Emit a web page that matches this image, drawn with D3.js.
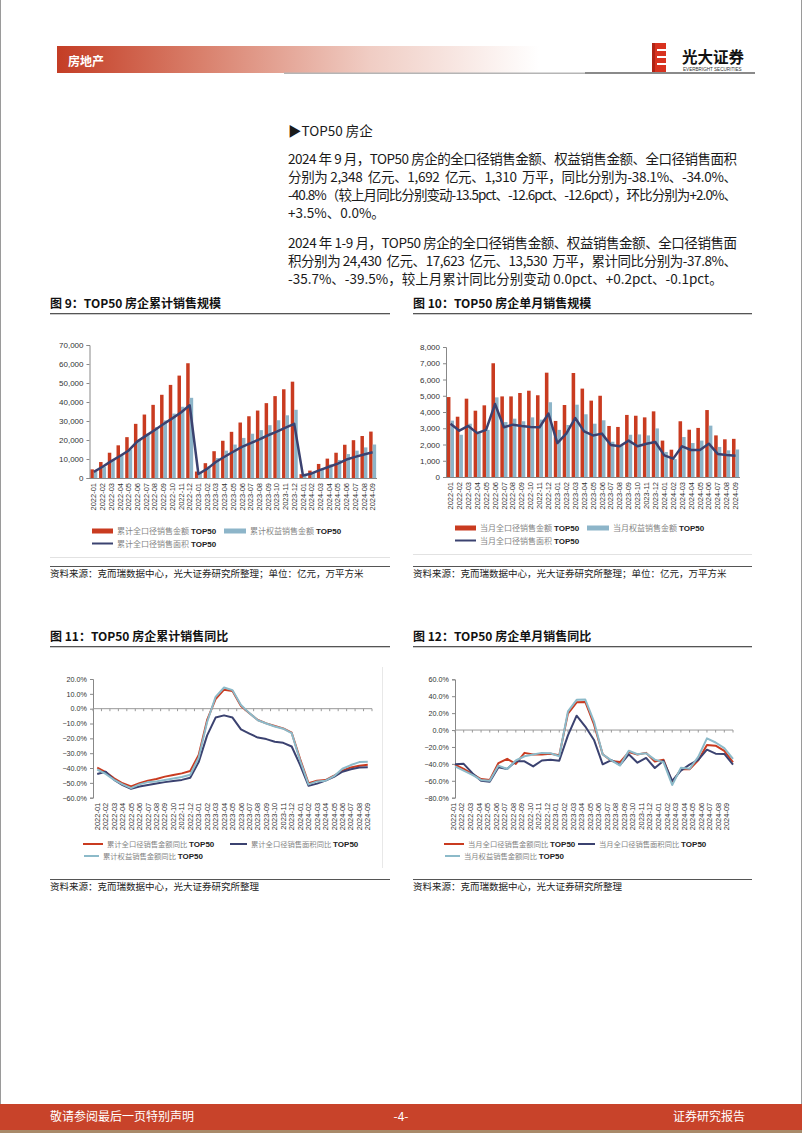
<!DOCTYPE html>
<html><head><meta charset="utf-8">
<script src="https://cdn.jsdelivr.net/npm/d3@7"></script>
<style>
body{margin:0;background:#fff;}
svg{display:block;}
</style></head><body>
<svg id="page" width="802" height="1133"></svg>
<script>
// ---------- DATA ----------
const months = ["2022-01","2022-02","2022-03","2022-04","2022-05","2022-06","2022-07","2022-08","2022-09","2022-10","2022-11","2022-12",
"2023-01","2023-02","2023-03","2023-04","2023-05","2023-06","2023-07","2023-08","2023-09","2023-10","2023-11","2023-12",
"2024-01","2024-02","2024-03","2024-04","2024-05","2024-06","2024-07","2024-08","2024-09"];

// Fig 9: cumulative (亿元 / 万平)
const cumAmt  = [4550,8400,13300,17200,21500,28500,33400,38500,43800,49000,53900,60400,3400,7800,14100,19600,24300,29200,32500,35500,39400,43100,46700,50700,2000,3900,7400,10200,13300,17500,19900,22100,24430];
const cumEq   = [3400,6000,9400,12100,15000,19900,23300,26800,30300,33900,37500,42200,2900,6100,10500,14400,17600,21100,23300,25200,27800,30400,33000,35900,1500,2700,5100,7200,9500,12600,14400,16100,17623];
const cumArea = [3200,5900,8900,11600,14500,19300,22300,25300,28400,31400,34500,38300,2100,4800,8400,11200,13800,16400,18400,20300,22500,24400,26500,28500,1300,2400,4300,5900,7600,9700,11100,12400,13530];
const cumTicks = [0,10000,20000,30000,40000,50000,60000,70000];

// Fig 10: monthly
const monAmt  = [4920,3710,4820,4080,4410,7000,4960,4960,5170,5310,5030,6420,3450,4430,6400,5440,4700,5000,3140,3080,3820,3770,3670,4040,2240,1680,3430,2910,3020,4120,2560,2320,2348];
const monEq   = [3470,2600,3280,2700,2900,4900,3380,3590,3430,3670,3530,4600,2900,3200,4450,3860,3280,3490,2170,1950,2600,2620,2560,2990,1540,1100,2460,2090,2240,3160,1850,1640,1692];
const monArea = [3280,2850,3140,2700,2900,4490,3060,3220,3140,3080,3060,3900,2090,2670,3630,2810,2560,2670,1970,1890,2240,1890,2050,2150,1330,1130,1890,1660,1660,2050,1420,1350,1310];
const monTicks = [0,1000,2000,3000,4000,5000,6000,7000,8000];

// Fig 11: cumulative YoY (%)
const cumAmtYoY  = [-39.8,-42.7,-47,-50.3,-52.4,-50.3,-48.5,-47.4,-45.8,-44.7,-43.6,-42,-31.2,-7.6,6.5,12.8,11.9,1.8,-3.1,-7.6,-9.9,-11.7,-13.3,-16.2,-34,-50.3,-48.5,-48.1,-45.2,-41.8,-39.6,-38.4,-37.8];
const cumAreaYoY = [-44,-42.5,-48,-51.5,-54,-52.5,-51.5,-50.5,-49.5,-48.7,-48,-46.5,-36,-18,-6,-4.5,-6,-14,-16.8,-19.5,-20.5,-22.3,-23,-25.5,-38,-52,-50.5,-48.5,-46,-42.5,-40.8,-39.7,-39.5];
const cumEqYoY   = [-41,-44,-48,-51,-53.5,-51,-49.5,-49,-48,-47,-46,-44.5,-33,-9,8,14.3,12.5,2.5,-3,-7.8,-10,-12,-13.5,-16.5,-35,-51,-49,-48.5,-45.5,-40.5,-38,-36,-35.7];
const cumYoYTicks = [-60,-50,-40,-30,-20,-10,0,10,20];

// Fig 12: monthly YoY (%)
const monAmtYoY  = [-41,-46,-52,-58,-59,-39,-34,-40,-27,-29,-29,-28,-29.9,19.4,32.8,33.3,6.6,-28.6,-36.7,-37.9,-26.1,-29,-27,-37.1,-35.1,-62.1,-46.4,-46.5,-35.7,-17.6,-18.5,-24.7,-38.1];
const monAreaYoY = [-40.5,-40,-51,-60,-61,-44,-46,-37,-37,-43,-36,-35,-36.3,-6.3,17,4.1,-11.7,-40.5,-35.6,-41.3,-28.7,-38.6,-33,-44.9,-36.4,-60,-47.9,-40.9,-35.2,-23.2,-27.9,-28.2,-40.8];
const monEqYoY   = [-43,-48,-53,-59,-60,-42,-46,-36,-31,-29,-27,-27.5,-31,22,35.7,36,10,-28.8,-35.8,-42,-24.5,-28.6,-27.5,-35,-38,-65,-44.7,-45.9,-31.7,-9.9,-14.7,-21.4,-34];
const monYoYTicks = [-80,-60,-40,-20,0,20,40,60];

// ---------- STYLE ----------
const RED = "#c93b20", BLUE = "#8db5c9", NAVY = "#3b4270", LBLUE = "#8cbac9";
const CJK = "'Noto Sans CJK SC', 'Noto Sans', sans-serif";
const SANS = "'Liberation Sans', Arial, sans-serif";

const svg = d3.select("#page");

// page borders
svg.append("line").attr("x1",0.5).attr("x2",0.5).attr("y1",0).attr("y2",1133).attr("stroke","#9a9a9a");
svg.append("line").attr("x1",801.5).attr("x2",801.5).attr("y1",0).attr("y2",1133).attr("stroke","#9a9a9a");

// ---------- HEADER ----------
const defs = svg.append("defs");
const hg = defs.append("linearGradient").attr("id","hg").attr("x1","0").attr("x2","1");
hg.append("stop").attr("offset","0").attr("stop-color","#c43d25");
hg.append("stop").attr("offset","0.3").attr("stop-color","#d9806c");
hg.append("stop").attr("offset","0.65").attr("stop-color","#f0cdc4");
hg.append("stop").attr("offset","1").attr("stop-color","#ffffff");
svg.append("rect").attr("x",57).attr("y",46).attr("width",482).attr("height",27).attr("fill","url(#hg)");
svg.append("text").attr("x",68).attr("y",66).attr("fill","#fff").attr("font-family",CJK).attr("font-weight","bold").attr("font-size",12).text("房地产");
svg.append("rect").attr("x",284).attr("y",72.5).attr("width",301).attr("height",1.5).attr("fill","#b5b5b5");
svg.append("rect").attr("x",585).attr("y",72).attr("width",170).attr("height",2).attr("fill","#8a8a8a");
// logo
const lg = svg.append("g");
lg.append("rect").attr("x",652).attr("y",43).attr("width",14).attr("height",29).attr("fill","#d8321f");
[49,56,63].forEach(yy=>lg.append("rect").attr("x",657).attr("y",yy).attr("width",9).attr("height",2).attr("fill","#fff"));
lg.append("rect").attr("x",652).attr("y",43).attr("width",3).attr("height",29).attr("fill","#b02415");
svg.append("text").attr("x",682).attr("y",63).attr("font-family",CJK).attr("font-weight","bold").attr("font-size",15.5).attr("fill","#111").text("光大证券");
svg.append("text").attr("x",683).attr("y",70.5).attr("font-family",SANS).attr("font-size",4.6).attr("fill","#333").text("EVERBRIGHT SECURITIES");

// ---------- BODY TEXT ----------
const bodyLines = [
  {t:"▶TOP50 房企", y:136, full:false},
  {t:"2024 年 9 月，TOP50 房企的全口径销售金额、权益销售金额、全口径销售面积", y:164, full:true},
  {t:"分别为 2,348  亿元、1,692  亿元、1,310  万平，同比分别为-38.1%、-34.0%、", y:182, full:true},
  {t:"-40.8%（较上月同比分别变动-13.5pct、-12.6pct、-12.6pct），环比分别为+2.0%、", y:200, full:true},
  {t:"+3.5%、0.0%。", y:218, full:false},
  {t:"2024 年 1-9 月，TOP50 房企的全口径销售金额、权益销售金额、全口径销售面", y:248, full:true},
  {t:"积分别为 24,430  亿元、17,623  亿元、13,530  万平，累计同比分别为-37.8%、", y:266, full:true},
  {t:"-35.7%、-39.5%，较上月累计同比分别变动 0.0pct、+0.2pct、-0.1pct。", y:284, full:false}
];
bodyLines.forEach(l=>{
  const t = svg.append("text").attr("x",288).attr("y",l.y).attr("font-family",CJK).attr("font-size",13.5).attr("fill","#1a1a1a").style("white-space","pre").text(l.t);
  if(l.full) t.attr("textLength",449).attr("lengthAdjust","spacing");
});

// ---------- CHART HELPERS ----------
function chartFrame(x0,x1,titleY,lineY,title,srcY,srcText){
  svg.append("text").attr("x",x0).attr("y",titleY).attr("font-family",CJK).attr("font-weight","bold").attr("font-size",12).attr("fill","#111").style("white-space","pre").text(title);
  svg.append("rect").attr("x",x0).attr("y",lineY).attr("width",x1-x0).attr("height",1.3).attr("fill","#555");
  svg.append("rect").attr("x",x0).attr("y",srcY).attr("width",x1-x0).attr("height",1).attr("fill","#555");
  svg.append("text").attr("x",x0).attr("y",srcY+11).attr("font-family",CJK).attr("font-size",9.5).attr("fill","#222").text(srcText);
}

function xLabels(g, xs, y){
  months.forEach((m,i)=>{
    g.append("text").attr("transform",`translate(${xs(i)+2.6},${y}) rotate(-90)`)
      .attr("text-anchor","end").attr("font-family",SANS).attr("font-size",7.5).attr("fill","#333").text(m);
  });
}

function yAxis(g, y, x, ticks, fmt, fs){
  const ax = d3.axisLeft(y).tickValues(ticks).tickFormat(fmt).tickSize(3).tickPadding(3);
  const a = g.append("g").attr("transform",`translate(${x},0)`).call(ax);
  a.selectAll("path,line").attr("stroke","#888");
  a.selectAll("text").attr("font-family",SANS).attr("font-size",fs).attr("fill","#333");
}

function legendItem(g, kind, color, x, y, w, label, fs){
  if(kind==="rect") g.append("rect").attr("x",x).attr("y",y-2.5).attr("width",w).attr("height",5).attr("fill",color);
  else g.append("line").attr("x1",x).attr("x2",x+w).attr("y1",y).attr("y2",y).attr("stroke",color).attr("stroke-width",2);
  const t = g.append("text").attr("x",x+w+4).attr("y",y+3);
  t.append("tspan").attr("font-family","'Liberation Serif', 'Noto Sans CJK SC', serif").attr("font-size",fs).attr("fill","#858585").text(label+" ");
  t.append("tspan").attr("font-family",SANS).attr("font-size",8).attr("font-weight","bold").attr("fill","#222").text("TOP50");
}

function barChart(o){
  const g = svg.append("g");
  const x = d3.scaleBand().domain(d3.range(months.length)).range([o.x0,o.x1]).paddingInner(0).paddingOuter(0);
  const y = d3.scaleLinear().domain([0,o.max]).range([o.yb,o.yt]);
  const bw = x.bandwidth();
  const pair = bw*0.8, off=(bw-pair)/2;
  g.selectAll(".r").data(o.amt).enter().append("rect")
    .attr("x",(d,i)=>x(i)+off).attr("width",pair/2).attr("y",d=>y(d)).attr("height",d=>y(0)-y(d)).attr("fill",RED);
  g.selectAll(".b").data(o.eq).enter().append("rect")
    .attr("x",(d,i)=>x(i)+off+pair/2).attr("width",pair/2).attr("y",d=>y(d)).attr("height",d=>y(0)-y(d)).attr("fill",BLUE);
  const line = d3.line().x((d,i)=>x(i)+bw/2).y(d=>y(d));
  g.append("path").datum(o.area).attr("d",line).attr("fill","none").attr("stroke",NAVY).attr("stroke-width",2.5).attr("stroke-linejoin","round");
  yAxis(g, y, o.x0, o.ticks, d3.format(","), 8);
  g.append("line").attr("x1",o.x0).attr("x2",o.x1).attr("y1",y(0)+0.5).attr("y2",y(0)+0.5).attr("stroke","#888");
  xLabels(g, i=>x(i)+bw/2, o.yb+5);
  legendItem(g,"rect",RED,o.lx,o.ly,21,o.l1,8);
  legendItem(g,"rect",BLUE,o.lx2,o.ly,22,o.l2,8);
  legendItem(g,"line",NAVY,o.lx,o.ly+12.5,21,o.l3,8);
}

function lineChart(o){
  const g = svg.append("g");
  const y = d3.scaleLinear().domain([o.min,o.max]).range([o.yb,o.yt]);
  const n = months.length;
  let xp;
  if(o.onTicks){
    const s = d3.scalePoint().domain(d3.range(n)).range([o.x0,o.x1]);
    xp = i=>s(i);
  } else {
    const s = d3.scaleBand().domain(d3.range(n)).range([o.x0,o.x1]);
    xp = i=>s(i)+s.bandwidth()/2;
  }
  yAxis(g, y, o.x0, o.ticks, d=>d3.format(".1f")(d)+"%", 7.2);
  g.append("line").attr("x1",o.x0).attr("x2",o.x1).attr("y1",y(0)).attr("y2",y(0)).attr("stroke","#999");
  const step = (o.x1-o.x0)/(o.onTicks? n-1 : n);
  d3.range((o.onTicks? n : n+1)).forEach(i=>{
    const xx = o.x0 + i*step;
    g.append("line").attr("x1",xx).attr("x2",xx).attr("y1",y(0)).attr("y2",y(0)+2.5).attr("stroke","#999");
  });
  const line = d3.line().x((d,i)=>xp(i)).y(d=>y(d));
  [[o.s1,RED],[o.s2,NAVY],[o.s3,LBLUE]].forEach(([s,c])=>{
    g.append("path").datum(s).attr("d",line).attr("fill","none").attr("stroke",c).attr("stroke-width",2).attr("stroke-linejoin","round");
  });
  const lab = d3.scaleBand().domain(d3.range(n)).range([o.lab0,o.lab1]);
  xLabels(g, i=>lab(i)+lab.bandwidth()/2, o.yb+5);
  legendItem(g,"line",RED,o.lx,o.ly,20,o.l1,7.3);
  legendItem(g,"line",NAVY,o.lx2,o.ly,17,o.l2,7.3);
  legendItem(g,"line",LBLUE,o.lx+1,o.ly+12,15,o.l3,7.3);
}

// ---------- FIG 9 ----------
chartFrame(50,390,308,313,"图 9：TOP50 房企累计销售规模",566,"资料来源：克而瑞数据中心，光大证券研究所整理；单位：亿元，万平方米");
svg.append("rect").attr("x",50).attr("y",557).attr("width",340).attr("height",1).attr("fill","#e2e2e2");
barChart({x0:89.5,x1:377,yt:345,yb:478,max:70000,ticks:cumTicks,amt:cumAmt,eq:cumEq,area:cumArea,
  lx:92,lx2:224,ly:531,l1:"累计全口径销售金额",l2:"累计权益销售金额",l3:"累计全口径销售面积"});

// ---------- FIG 10 ----------
chartFrame(413,752,308,313,"图 10：TOP50 房企单月销售规模",566,"资料来源：克而瑞数据中心，光大证券研究所整理；单位：亿元，万平方米");
svg.append("rect").attr("x",413).attr("y",554).attr("width",339).attr("height",1).attr("fill","#e2e2e2");
barChart({x0:446,x1:740,yt:347,yb:477,max:8000,ticks:monTicks,amt:monAmt,eq:monEq,area:monArea,
  lx:455,lx2:587,ly:528,l1:"当月全口径销售金额",l2:"当月权益销售金额",l3:"当月全口径销售面积"});

// ---------- FIG 11 ----------
chartFrame(50,390,641,646,"图 11：TOP50 房企累计销售同比",879,"资料来源：克而瑞数据中心，光大证券研究所整理");
svg.append("rect").attr("x",382).attr("y",667).attr("width",1).attr("height",201).attr("fill","#e8e8e8");
lineChart({x0:93,x1:372,yt:679,yb:797.7,min:-60,max:20,ticks:cumYoYTicks,onTicks:false,
  s1:cumAmtYoY,s2:cumAreaYoY,s3:cumEqYoY,lab0:93,lab1:372,
  lx:83,lx2:230,ly:844,l1:"累计全口径销售金额同比",l2:"累计全口径销售面积同比",l3:"累计权益销售金额同比"});

// ---------- FIG 12 ----------
chartFrame(413,752,641,646,"图 12：TOP50 房企单月销售同比",879,"资料来源：克而瑞数据中心，光大证券研究所整理");
lineChart({x0:455,x1:733,yt:679.3,yb:797.7,min:-80,max:60,ticks:monYoYTicks,onTicks:true,
  s1:monAmtYoY,s2:monAreaYoY,s3:monEqYoY,lab0:449,lab1:731,
  lx:444,lx2:578,ly:844,l1:"当月全口径销售金额同比",l2:"当月全口径销售面积同比",l3:"当月权益销售金额同比"});

// ---------- FOOTER ----------
svg.append("rect").attr("x",0).attr("y",1104).attr("width",802).attr("height",26).attr("fill","#c8432a");
svg.append("rect").attr("x",0).attr("y",1130).attr("width",802).attr("height",3).attr("fill","#a88a6a");
svg.append("text").attr("x",50).attr("y",1121).attr("font-family",CJK).attr("font-size",12).attr("fill","#fff").text("敬请参阅最后一页特别声明");
svg.append("text").attr("x",401).attr("y",1121).attr("text-anchor","middle").attr("font-family",CJK).attr("font-size",12).attr("fill","#fff").text("-4-");
svg.append("text").attr("x",745).attr("y",1121).attr("text-anchor","end").attr("font-family",CJK).attr("font-size",12).attr("fill","#fff").text("证券研究报告");
</script>
</body></html>
